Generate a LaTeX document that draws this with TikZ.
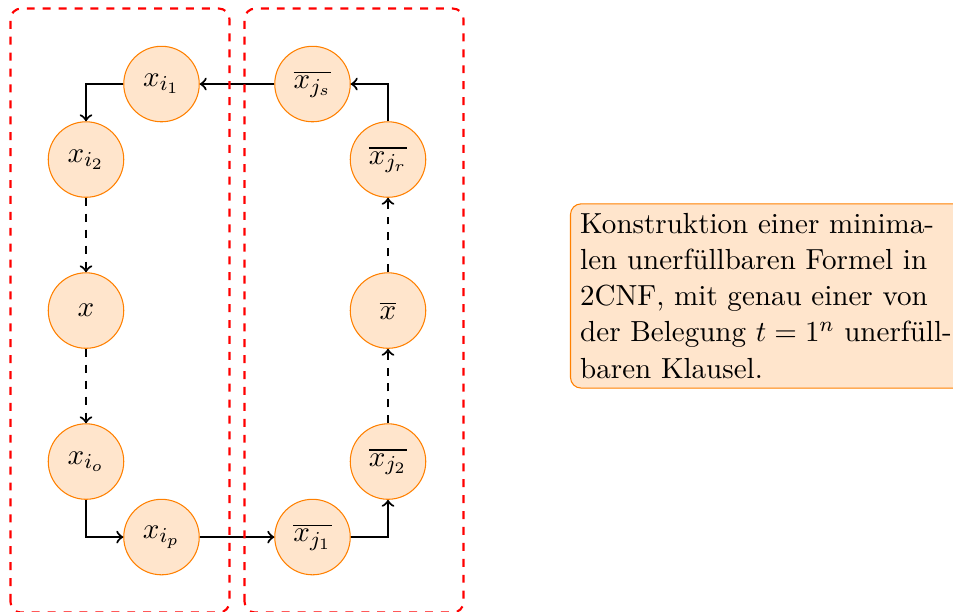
\documentclass[tikz,border=0pt,11pt]{standalone}
\begin{document}
\begin{tikzpicture}
  [auto=left,every node/.style={circle,draw=orange,fill=orange!20,minimum size=1cm,inner sep=0pt}]

  \useasboundingbox (-1.139,-0.98) rectangle (11.483,7.113);

  \node (xi1) at (1,6) {$x_{i_1}$};
  \node (xi2) at (0,5) {$x_{i_2}$};
  \node (x) at (0,3) {$x$};
  \node (xio) at (0,1) {$x_{i_o}$};
  \node (xip) at (1,0) {$x_{i_p}$};
  \node (nj1) at (3,0) {$\overline{x_{j_1}}$};
  \node (nj2) at (4,1) {$\overline{x_{j_2}}$};
  \node (nx) at (4,3) {$\overline{x}$};
  \node (njr) at (4,5) {$\overline{x_{j_r}}$};
  \node (njs) at (3,6) {$\overline{x_{j_s}}$};

  \foreach \from/\to in {xi2/x,x/xio,nj2/nx,nx/njr}
    \draw[->,thick,dashed] (\from) -- (\to);
  \draw[->,thick] (xi1) -| (xi2);
  \draw[->,thick] (xio) |- (xip);
  \draw[->,thick] (xip) -- (nj1);
  \draw[->,thick] (nj1) -| (nj2);
  \draw[->,thick] (njr) |- (njs);
  \draw[->,thick] (njs) -- (xi1);

  \draw[red,thick,dashed,rounded corners] (-1,-1) rectangle (1.9,7);
  \draw[red,thick,dashed,rounded corners] (2.1,-1) rectangle (5,7);

  \node[rectangle,rounded corners,anchor=north west,minimum size=0pt,inner sep=.3333em,text width=5cm,align=left]
    (info) at (6.41,4.42) {Konstruktion einer minima-\\ len unerf\"ullbaren Formel in\\ 2CNF, mit genau einer von\\ der Belegung $t = 1^n$ unerf\"ull-\\ baren Klausel.};
\end{tikzpicture}
\end{document}
